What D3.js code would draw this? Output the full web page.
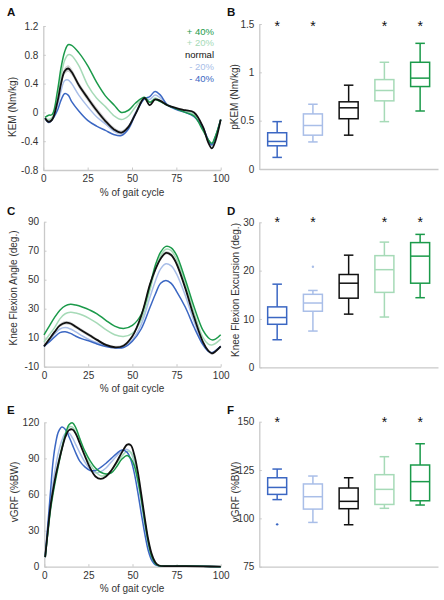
<!DOCTYPE html>
<html><head><meta charset="utf-8">
<script src="https://cdn.jsdelivr.net/npm/d3@7"></script>
<style>
html,body{margin:0;padding:0;background:#fff;}
svg{display:block;font-family:"Liberation Sans",Arial,sans-serif;}
</style></head>
<body><svg id="c" width="444" height="600"></svg>
<script>
// ---------- DATA ----------
const categories = ["-40%", "-20%", "normal", "+20%", "+40%"];
const legendLabels = ["+ 40%", "+ 20%", "normal", "- 20%", "- 40%"];
const colors = ["#3b67c3", "#a9bee8", "#111111", "#a6dab7", "#1b9a4a"];

// Panel A: knee extension moment (Nm/kg) vs % gait cycle
const xsA = [1, 3, 5, 8, 10, 12, 14, 16, 20, 25, 30, 35, 40, 44, 48, 52, 57, 60, 63, 66, 70, 75, 80, 85, 90, 93, 95, 97, 100];
const kemM40 = [-0.08, -0.14, -0.10, 0.03, 0.17, 0.26, 0.24, 0.15, 0.02, -0.11, -0.19, -0.25, -0.31, -0.32, -0.23, -0.02, 0.19, 0.22, 0.29, 0.24, 0.10, 0.04, 0.00, -0.06, -0.22, -0.38, -0.45, -0.34, -0.10];
const kemM20 = [-0.08, -0.12, -0.09, 0.10, 0.30, 0.44, 0.45, 0.40, 0.24, 0.08, -0.06, -0.16, -0.26, -0.29, -0.20, 0.00, 0.19, 0.18, 0.24, 0.20, 0.11, 0.05, 0.02, -0.03, -0.20, -0.40, -0.46, -0.36, -0.10];
const kemNormal = [-0.08, -0.13, -0.10, 0.15, 0.40, 0.57, 0.61, 0.56, 0.38, 0.20, 0.03, -0.12, -0.24, -0.28, -0.20, -0.02, 0.20, 0.10, 0.18, 0.16, 0.10, 0.06, 0.03, 0.00, -0.20, -0.42, -0.50, -0.40, -0.10];
const kemP20 = [-0.08, -0.10, -0.07, 0.20, 0.50, 0.72, 0.80, 0.79, 0.65, 0.38, 0.20, 0.08, -0.05, -0.10, -0.05, 0.08, 0.20, 0.14, 0.20, 0.16, 0.10, 0.05, 0.02, -0.03, -0.22, -0.40, -0.45, -0.35, -0.10];
const kemP40 = [-0.07, -0.04, -0.03, 0.30, 0.62, 0.84, 0.94, 0.93, 0.83, 0.65, 0.42, 0.23, 0.10, 0.00, 0.03, 0.13, 0.21, 0.14, 0.18, 0.15, 0.10, 0.05, 0.00, -0.05, -0.25, -0.38, -0.43, -0.33, -0.10];
const kemNormalBand = [0.01, 0.02, 0.02, 0.03, 0.04, 0.045, 0.045, 0.045, 0.04, 0.04, 0.04, 0.04, 0.035, 0.03, 0.03, 0.02, 0.015, 0.015, 0.015, 0.015, 0.01, 0.01, 0.01, 0.01, 0.01, 0.01, 0.01, 0.01, 0.01];

// Panel B: peak KEM boxplots [min, q1, median, q3, max]
const pkemBoxes = [
  [0.12, 0.24, 0.285, 0.375, 0.49],
  [0.28, 0.35, 0.45, 0.57, 0.67],
  [0.35, 0.52, 0.633, 0.695, 0.867],
  [0.49, 0.705, 0.812, 0.925, 1.104],
  [0.60, 0.853, 0.94, 1.104, 1.30]
];
const pkemOutliers = [[], [], [], [], []];
const pkemSig = [true, true, false, true, true];

// Panel C: knee flexion angle (deg.)
const xsC = [0, 3, 6, 9, 12, 15, 18, 22, 26, 30, 35, 40, 45, 50, 55, 60, 63, 66, 69, 72, 75, 80, 85, 90, 93, 95, 97, 100];
const kfaM40 = [4, 7, 10.5, 13.5, 14.1, 13, 11, 9, 7.5, 5.7, 4, 3, 3.2, 7.5, 16, 31, 40, 47.5, 49.5, 47.5, 42, 31, 17, 5, 0.5, -0.3, 1, 4];
const kfaM20 = [4, 8, 12.5, 16, 17, 16, 14, 11, 8.5, 6.5, 4.5, 3.2, 3.5, 8.5, 19, 38, 49, 57.5, 61, 59.5, 54, 39, 21, 6, 1, -0.3, 1, 4];
const kfaNormal = [4, 9, 14, 18.5, 20.3, 19.8, 17.5, 14.5, 11.5, 8.5, 5, 3.4, 4.5, 11, 25, 47, 57, 64.5, 68.5, 67, 61, 44, 24, 7, 1, -0.8, 0.5, 4];
const kfaP20 = [7, 12, 17, 23, 26.5, 27.5, 27, 25.5, 23, 20, 15.5, 12, 10.8, 13, 22, 43, 57, 66.5, 71, 70, 64, 47, 27, 10, 5.5, 5, 6, 9];
const kfaP40 = [12, 18, 24, 29, 32, 33, 32.5, 31, 29, 26.5, 22, 18, 16.3, 18.5, 26, 46, 60, 69, 73, 72, 67, 50, 31, 15, 10, 8.5, 9, 12];
const kfaNormalBand = [0.8, 1, 1, 1.2, 1.2, 1.2, 1.2, 1.2, 1.2, 1, 1, 1, 1, 1, 1, 1, 1, 1, 1.2, 1.2, 1.2, 1, 1, 1, 1, 1, 1, 0.8];

// Panel D: knee flexion excursion boxplots
const kfeBoxes = [
  [5.7, 8.9, 10.3, 12.5, 17.2],
  [7.5, 11.6, 13.3, 15.1, 15.9],
  [11.0, 14.3, 17.4, 19.2, 23.2],
  [10.4, 15.5, 20.2, 23.1, 25.9],
  [14.4, 17.4, 23.0, 25.8, 27.5]
];
const kfeOutliers = [[], [20.8], [], [], []];
const kfeSig = [true, true, false, true, true];

// Panel E: vertical GRF (%BW)
const xsE = [0.5, 2, 3.5, 5, 6.5, 8, 10, 12, 14, 16, 18, 20, 23, 26, 29, 32, 35, 38, 41, 44, 47, 49, 51, 53, 55, 57, 59, 61, 63, 65, 70, 80, 90, 100];
const grfM40 = [8, 35, 62, 88, 103, 112, 116, 114, 108, 101, 94, 88, 83, 80, 80, 82.5, 86, 90, 94, 97, 95, 89, 78, 62, 44, 27, 13, 5, 1.5, 0.8, 0.5, 0.5, 0.3, 0];
const grfM20 = [8, 30, 52, 70, 84, 95, 105, 111, 111, 107, 101, 95, 87, 81, 78, 79, 82, 87, 92, 96, 97.5, 95, 87, 72, 54, 35, 18, 7, 2, 0.8, 0.5, 0.5, 0.3, 0];
const grfNormal = [8, 30, 50, 64, 76, 86, 98, 108, 113.5, 114, 110, 103, 92, 82, 75, 73, 75, 80, 87, 95, 101.5, 101, 93, 79, 60, 40, 22, 10, 3.5, 1, 0.5, 0.5, 0.3, 0];
const grfP20 = [8, 29, 49, 64, 76, 87, 100, 110, 116, 116, 111, 104, 93, 85, 79, 75.5, 76, 80, 86, 92, 96, 95, 89, 75, 57, 38, 20, 8, 2.5, 1, 0.5, 0.5, 0.3, 0];
const grfP40 = [8, 28, 47, 61, 73, 84, 98, 110, 118, 119.5, 115, 107, 96, 88, 82, 78.5, 77, 78, 83, 89.5, 92.5, 90, 84, 72, 56, 37, 20, 8, 2.5, 0.8, 0.5, 0.5, 0.3, 0];

// Panel F: peak vGRF boxplots
const pgrfBoxes = [
  [109.7, 112.4, 116.0, 121.0, 125.5],
  [97.9, 104.8, 111.2, 117.8, 121.9],
  [96.7, 105.0, 108.8, 115.7, 121.0],
  [105.2, 107.2, 115.0, 122.6, 131.9],
  [106.9, 109.1, 119.0, 127.6, 138.6]
];
const pgrfOutliers = [[96.9], [], [], [], []];
const pgrfSig = [true, false, false, true, true];

const xTicks = [0, 25, 50, 75, 100];

// ---------- DRAWING ----------
const svg = d3.select("#c");
const AXIS_COL = "#c9c9c9";
const TXT_COL = "#333";

function styleAxis(g) {
  g.select(".domain").attr("stroke", AXIS_COL).attr("stroke-width", 1.3);
  g.selectAll(".tick line").attr("stroke", AXIS_COL).attr("stroke-width", 1);
  g.selectAll(".tick text").attr("fill", TXT_COL).style("font-size", "10px");
}

function panelLetter(x, y, t) {
  svg.append("text").attr("x", x).attr("y", y).text(t)
    .style("font-weight", "bold").style("font-size", "11.5px").attr("fill", "#111");
}
function yTitle(cx, cy, t) {
  svg.append("text").attr("transform", `translate(${cx},${cy}) rotate(-90)`)
    .attr("text-anchor", "middle").attr("dy", "0.35em")
    .style("font-size", "10px").attr("fill", TXT_COL).text(t);
}
function xTitle(cx, y, t) {
  svg.append("text").attr("x", cx).attr("y", y).attr("text-anchor", "middle")
    .style("font-size", "10px").attr("fill", TXT_COL).text(t);
}

function linePanel(cfg) {
  const x = d3.scaleLinear().domain([0, 100]).range(cfg.xr);
  const y = d3.scaleLinear().domain(cfg.yd).range(cfg.yr);
  const g = svg.append("g");
  g.append("g").attr("transform", `translate(0,${cfg.yr[0]})`)
    .call(d3.axisBottom(x).tickValues(xTicks).tickSizeInner(-2.5).tickSizeOuter(0).tickPadding(5))
    .call(styleAxis);
  g.append("g").attr("transform", `translate(${cfg.xr[0]},0)`)
    .call(d3.axisLeft(y).tickValues(cfg.yTicks).tickFormat(cfg.fmt).tickSizeInner(-2.5).tickSizeOuter(0).tickPadding(5))
    .call(styleAxis);
  const xs = cfg.xs;
  if (cfg.band) {
    const area = d3.area().curve(d3.curveCatmullRom.alpha(0.5))
      .x((d, i) => x(xs[i]))
      .y0((d, i) => y(cfg.series[2][i] - cfg.band[i]))
      .y1((d, i) => y(cfg.series[2][i] + cfg.band[i]));
    g.append("path").datum(xs).attr("d", area).attr("fill", "#c4c4c4").attr("opacity", 0.8);
  }
  const line = d3.line().curve(d3.curveCatmullRom.alpha(0.5))
    .x((d, i) => x(xs[i])).y(d => y(d));
  const order = [1, 3, 0, 4, 2];
  order.forEach(k => {
    g.append("path").datum(cfg.series[k]).attr("d", line)
      .attr("fill", "none").attr("stroke", colors[k])
      .attr("stroke-width", k === 2 ? 1.8 : 1.5).attr("stroke-linejoin", "round");
  });
  return {x, y};
}

function boxPanel(cfg) {
  const x = d3.scaleBand().domain(categories).range(cfg.xr);
  const y = d3.scaleLinear().domain(cfg.yd).range(cfg.yr);
  const g = svg.append("g");
  g.append("g").attr("transform", `translate(0,${cfg.yr[0]})`)
    .call(d3.axisBottom(x).tickValues([]).tickSizeOuter(0))
    .call(styleAxis);
  g.append("g").attr("transform", `translate(${cfg.xr[0]},0)`)
    .call(d3.axisLeft(y).tickValues(cfg.yTicks).tickFormat(cfg.fmt).tickSizeInner(-2.5).tickSizeOuter(0).tickPadding(5))
    .call(styleAxis);
  const bw = 19, cw = 9.5;
  categories.forEach((c, i) => {
    const [mn, q1, md, q3, mx] = cfg.boxes[i];
    const cx = x(c) + x.bandwidth() / 2;
    const col = colors[i];
    const bg = g.append("g").attr("stroke", col).attr("stroke-width", 1.5).attr("fill", "none");
    bg.append("line").attr("x1", cx).attr("x2", cx).attr("y1", y(mx)).attr("y2", y(q3));
    bg.append("line").attr("x1", cx).attr("x2", cx).attr("y1", y(q1)).attr("y2", y(mn));
    bg.append("line").attr("x1", cx - cw / 2).attr("x2", cx + cw / 2).attr("y1", y(mx)).attr("y2", y(mx));
    bg.append("line").attr("x1", cx - cw / 2).attr("x2", cx + cw / 2).attr("y1", y(mn)).attr("y2", y(mn));
    bg.append("rect").attr("x", cx - bw / 2).attr("width", bw).attr("y", y(q3)).attr("height", y(q1) - y(q3));
    bg.append("line").attr("x1", cx - bw / 2).attr("x2", cx + bw / 2).attr("y1", y(md)).attr("y2", y(md));
    cfg.outliers[i].forEach(v => {
      g.append("circle").attr("cx", cx).attr("cy", y(v)).attr("r", 1.2).attr("fill", col);
    });
    if (cfg.sig[i]) {
      g.append("text").attr("x", cx).attr("y", cfg.starY).attr("text-anchor", "middle")
        .style("font-size", "14px").attr("fill", "#111").text("*");
    }
  });
}

const fmtPlain = d => String(d);

// Panel A
linePanel({xr: [43.3, 220.7], yd: [-0.8, 1.2], yr: [170, 26], xs: xsA,
  series: [kemM40, kemM20, kemNormal, kemP20, kemP40], band: kemNormalBand,
  yTicks: [-0.8, -0.4, 0, 0.4, 0.8, 1.2], fmt: fmtPlain});
panelLetter(7, 16, "A");
yTitle(12.5, 107, "KEM (Nm/kg)");
xTitle(132, 195.5, "% of gait cycle");
const legendColorIdx = [4, 3, 2, 1, 0];
legendLabels.forEach((t, i) => {
  svg.append("text").attr("x", 214).attr("y", 34.5 + i * 11.8).attr("text-anchor", "end")
    .style("font-size", "9.5px").attr("fill", colors[legendColorIdx[i]]).text(t);
});

// Panel B
boxPanel({xr: [259.3, 438], yd: [0, 1.5], yr: [169, 24], boxes: pkemBoxes, outliers: pkemOutliers,
  sig: pkemSig, starY: 31, yTicks: [0, 0.5, 1, 1.5], fmt: fmtPlain});
panelLetter(227, 16, "B");
yTitle(234, 97, "pKEM (Nm/kg)");

// Panel C
linePanel({xr: [44, 220.7], yd: [-10, 90], yr: [366.7, 221.7], xs: xsC,
  series: [kfaM40, kfaM20, kfaNormal, kfaP20, kfaP40], band: kfaNormalBand,
  yTicks: [-10, 10, 30, 50, 70, 90], fmt: fmtPlain});
panelLetter(7, 215, "C");
yTitle(13.3, 288, "Knee Flexion Angle (deg.)");
xTitle(132, 391.5, "% of gait cycle");

// Panel D
boxPanel({xr: [259.3, 438], yd: [0, 30], yr: [367.3, 222.3], boxes: kfeBoxes, outliers: kfeOutliers,
  sig: kfeSig, starY: 227, yTicks: [0, 10, 20, 30], fmt: fmtPlain});
panelLetter(227, 215, "D");
yTitle(235, 290, "Knee Flexion Excursion (deg.)");

// Panel E
linePanel({xr: [44.3, 220.7], yd: [0, 120], yr: [566.7, 422.3], xs: xsE,
  series: [grfM40, grfM20, grfNormal, grfP20, grfP40], band: null,
  yTicks: [0, 30, 60, 90, 120], fmt: fmtPlain});
panelLetter(7, 414, "E");
yTitle(14, 492, "vGRF (%BW)");
xTitle(132, 591.5, "% of gait cycle");

// Panel F
boxPanel({xr: [259.3, 438], yd: [75, 150], yr: [566.7, 421.7], boxes: pgrfBoxes, outliers: pgrfOutliers,
  sig: pgrfSig, starY: 427, yTicks: [75, 100, 125, 150], fmt: fmtPlain});
panelLetter(227, 414, "F");
yTitle(235, 492, "vGRF (%BW)");
</script></body></html>
